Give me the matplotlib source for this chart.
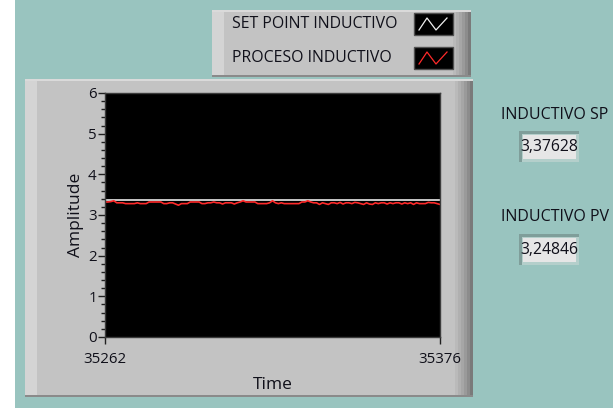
import matplotlib
matplotlib.use("Agg")
import matplotlib.pyplot as plt
from matplotlib.patches import Rectangle
from matplotlib.ticker import MultipleLocator, FixedLocator

plt.rcParams['font.family'] = ['Open Sans', 'DejaVu Sans']

# chart data
t_start, t_end = 35262, 35376
time = list(range(t_start, t_end + 1))
pv_values = [3.32, 3.32, 3.33, 3.35, 3.30, 3.30, 3.30, 3.28, 3.28, 3.28,
             3.28, 3.30, 3.28, 3.28, 3.28, 3.32, 3.32, 3.32, 3.32, 3.32,
             3.28, 3.28, 3.30, 3.30, 3.27, 3.24, 3.28, 3.28, 3.28, 3.32,
             3.32, 3.32, 3.32, 3.28, 3.28, 3.30, 3.30, 3.32, 3.30, 3.30,
             3.27, 3.30, 3.30, 3.30, 3.27, 3.30, 3.32, 3.35, 3.32, 3.32,
             3.32, 3.32, 3.28, 3.28, 3.28, 3.28, 3.30, 3.35, 3.30, 3.28,
             3.30, 3.28, 3.28, 3.28, 3.28, 3.28, 3.28, 3.32, 3.32, 3.35,
             3.32, 3.30, 3.30, 3.26, 3.30, 3.28, 3.26, 3.30, 3.30, 3.28,
             3.31, 3.27, 3.30, 3.30, 3.28, 3.31, 3.30, 3.28, 3.26, 3.30,
             3.27, 3.26, 3.30, 3.28, 3.30, 3.30, 3.27, 3.30, 3.28, 3.30,
             3.30, 3.27, 3.30, 3.28, 3.30, 3.26, 3.30, 3.28, 3.28, 3.28,
             3.31, 3.30, 3.30, 3.28, 3.26]
sp_time = [t_start, t_end]
sp_values = [3.37628, 3.37628]
y_ticks = [0, 1, 2, 3, 4, 5, 6]
legend_labels = ["SET POINT INDUCTIVO", "PROCESO INDUCTIVO"]
sp_display = "3,37628"
pv_display = "3,24846"

W, H = 613, 408
teal = '#99c4bf'
panel = '#c3c3c3'
txt = '#10101a'

fig = plt.figure(figsize=(W / 100, H / 100), dpi=100)
fig.patch.set_facecolor(teal)

# background axes in pixel coordinates for the front panel decorations
bg = fig.add_axes([0, 0, 1, 1])
bg.set_xlim(0, W)
bg.set_ylim(H, 0)
bg.axis('off')

bg.add_patch(Rectangle((0, 0), 15, H, fc='white', ec='none'))


def raised_box(x0, y0, x1, y1):
    bg.add_patch(Rectangle((x0, y0), x1 - x0, y1 - y0, fc=panel, ec='none'))
    bg.add_patch(Rectangle((x0, y0), 12, y1 - y0, fc='#d4d4d4', ec='none'))
    bg.add_patch(Rectangle((x0, y0), x1 - x0, 2, fc='#dadada', ec='none'))
    # darker shading to the right
    shades = ['#bababa', '#b0b0b0', '#a6a6a6', '#9a9a9a', '#8c8c8c', '#7a7a7a']
    for k, c in enumerate(shades):
        bg.add_patch(Rectangle((x1 - 18 + k * 3, y0 + 2), 3, y1 - y0 - 2, fc=c, ec='none'))
    bg.add_patch(Rectangle((x0, y1 - 2), x1 - x0, 2, fc='#8a8a8a', ec='none'))


# graph panel
raised_box(25, 79, 473, 397)
# legend panel
raised_box(212, 10, 471, 77)

# legend entries
for i, (lab, col) in enumerate(zip(legend_labels, ['#f0f0f0', '#ff2a2a'])):
    yc = 24 + i * 34
    bg.text(232, yc, lab, fontsize=11.4, color=txt, va='center', ha='left')
    bg.add_patch(Rectangle((414, yc - 11), 39, 22, fc='black', ec='#505050', lw=1))
    bg.plot([419, 427, 436, 447], [yc + 6, yc - 6, yc + 6, yc - 6], color=col, lw=0.9)

# numeric indicators
for lab, val, yl, yb in [("INDUCTIVO SP", sp_display, 115, 131),
                         ("INDUCTIVO PV", pv_display, 217, 234)]:
    bg.text(555, yl, lab, fontsize=11.5, color=txt, ha='center', va='center')
    bg.add_patch(Rectangle((519, yb), 60, 31, fc='#b4cfcb', ec='none'))
    bg.add_patch(Rectangle((519, yb), 60, 3, fc='#7f9e9a', ec='none'))
    bg.add_patch(Rectangle((519, yb), 3, 31, fc='#7f9e9a', ec='none'))
    bg.add_patch(Rectangle((523, yb + 4), 53, 24, fc='#e6e6e6', ec='none'))
    bg.text(549, yb + 16, val, fontsize=11.3, color=txt, ha='center', va='center')

# graph axes
ax = fig.add_axes([105 / W, 1 - 337 / H, 335 / W, 244 / H])
ax.set_facecolor('black')
ax.plot(sp_time, sp_values, color='#e8e8e8', lw=1.2)
ax.plot(time, pv_values, color='#ff2a2a', lw=1.2)
ax.set_xlim(t_start, t_end)
ax.set_ylim(0, 6)
ax.yaxis.set_major_locator(FixedLocator(y_ticks))
ax.yaxis.set_minor_locator(MultipleLocator(0.2))
ax.xaxis.set_major_locator(FixedLocator([t_start, t_end]))
ax.tick_params(axis='both', which='major', length=5, width=1, color='#202020',
               labelsize=10.8, labelcolor=txt)
ax.tick_params(axis='y', which='major', pad=1)
ax.tick_params(axis='x', which='major', pad=6)
ax.tick_params(axis='y', which='minor', length=3, width=1, color='#202020')
for s in ax.spines.values():
    s.set_color('#3c3c3c')
    s.set_linewidth(1)
ax.set_xlabel("Time", fontsize=12.5, color=txt, labelpad=7)
ax.set_ylabel("Amplitude", fontsize=12.5, color=txt, labelpad=3)

fig.savefig("out.png", dpi=100, facecolor=fig.get_facecolor())
